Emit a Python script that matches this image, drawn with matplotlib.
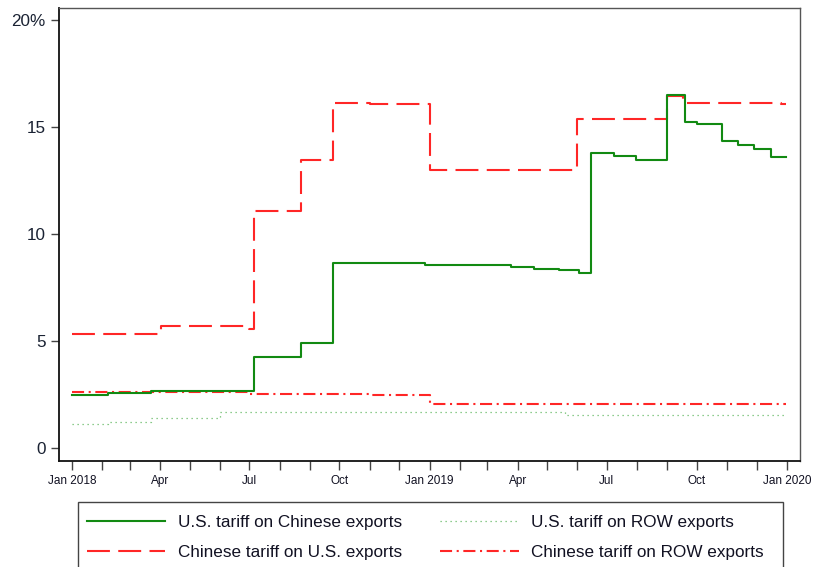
import matplotlib
matplotlib.use("Agg")
import matplotlib.pyplot as plt
import matplotlib.patches as mpatches
import numpy as np
import pandas as pd

plt.rcParams['font.family'] = ['Liberation Sans', 'DejaVu Sans']

# --- data (percent) ---
us_cn_dates = ['2018-01-01', '2018-02-07', '2018-03-23', '2018-07-06', '2018-08-23', '2018-09-24',
               '2018-12-27', '2019-03-25', '2019-04-18', '2019-05-13', '2019-06-03', '2019-06-15',
               '2019-07-08', '2019-07-31', '2019-09-01', '2019-09-19', '2019-10-01', '2019-10-27',
               '2019-11-12', '2019-11-28', '2019-12-16', '2019-12-31']
us_cn_vals = [2.49, 2.55, 2.65, 4.24, 4.89, 8.63, 8.55, 8.44, 8.36, 8.32, 8.16, 13.77,
              13.64, 13.46, 16.50, 15.22, 15.12, 14.35, 14.16, 13.97, 13.61, 13.61]

us_row_dates = ['2018-01-01', '2018-02-07', '2018-03-23', '2018-06-01', '2019-05-19', '2019-12-31']
us_row_vals = [1.10, 1.23, 1.40, 1.68, 1.54, 1.54]

cn_us_dates = ['2018-01-01', '2018-04-02', '2018-07-01', '2018-07-06', '2018-08-23', '2018-09-24',
               '2018-11-01', '2019-01-01', '2019-06-01', '2019-09-01', '2019-09-17', '2019-12-26',
               '2019-12-31']
cn_us_vals = [5.31, 5.71, 5.58, 11.07, 13.46, 16.14, 16.07, 12.99, 15.37, 16.46, 16.14, 16.09, 16.09]

cn_row_dates = ['2018-01-01', '2018-07-01', '2018-11-01', '2019-01-01', '2019-07-07', '2019-12-31']
cn_row_vals = [2.60, 2.51, 2.46, 2.07, 2.04, 2.04]

series_labels = ['U.S. tariff on Chinese exports', 'U.S. tariff on ROW exports',
                 'Chinese tariff on U.S. exports', 'Chinese tariff on ROW exports']

x_tick_dates = pd.date_range('2018-01-01', '2020-01-01', freq='MS')
x_tick_labels = ['Jan 2018', '', '', 'Apr', '', '', 'Jul', '', '', 'Oct', '', '',
                 'Jan 2019', '', '', 'Apr', '', '', 'Jul', '', '', 'Oct', '', '', 'Jan 2020']
y_ticks = [0, 5, 10, 15, 20]
y_tick_labels = ['0', '5', '10', '15', '20%']

# --- figure ---
W, H = 817, 567
fig = plt.figure(figsize=(W / 100, H / 100), dpi=100)
ax = fig.add_axes([59 / W, 1 - 460.5 / H, (800 - 59) / W, (460.5 - 8) / H])

red = '#ff2626'
green = '#128a12'

l1, = ax.step(pd.to_datetime(us_cn_dates), us_cn_vals, where='post', color=green, lw=1.5,
              label=series_labels[0], zorder=4)
l2, = ax.step(pd.to_datetime(us_row_dates), us_row_vals, where='post', color='#4fb04f', lw=0.9,
              linestyle=(0, (1, 3)), alpha=0.85, label=series_labels[1], zorder=2)
l3, = ax.step(pd.to_datetime(cn_us_dates), cn_us_vals, where='post', color=red, lw=1.5,
              linestyle=(0, (11, 4)), label=series_labels[2], zorder=3)
l4, = ax.step(pd.to_datetime(cn_row_dates), cn_row_vals, where='post', color=red, lw=1.5,
              linestyle=(0, (5.8, 2.2, 1, 2.2)), label=series_labels[3], zorder=3)

x0 = pd.Timestamp('2018-01-01') - pd.Timedelta(days=13.3)
x1 = pd.Timestamp('2020-01-01') + pd.Timedelta(days=13.3)
ax.set_xlim(x0, x1)
ax.set_ylim(-0.584, 20.56)

ax.set_xticks(x_tick_dates)
ax.set_xticklabels(x_tick_labels)
ax.set_yticks(y_ticks)
ax.set_yticklabels(y_tick_labels)

ax.tick_params(axis='x', length=6.3, width=1, color='#444444', labelsize=8.5,
               labelcolor='#111122', pad=4)
ax.tick_params(axis='y', length=5.8, width=1, color='#444444', labelsize=12.3,
               labelcolor='#1a2233', pad=4)

for s in ['left', 'bottom']:
    ax.spines[s].set_color('#111111')
    ax.spines[s].set_linewidth(1.3)
for s in ['top', 'right']:
    ax.spines[s].set_color('#555555')
    ax.spines[s].set_linewidth(1.0)

# legend: row-wise order (matplotlib fills columns first)
handles = [l1, l3, l2, l4]
labels = [series_labels[0], series_labels[2], series_labels[1], series_labels[3]]
leg = fig.legend(handles, labels, ncol=2, loc='upper left',
                 bbox_to_anchor=(74 / W, 1 - 502 / H),
                 fontsize=12.3, frameon=False,
                 handlelength=4.6, handletextpad=0.75, columnspacing=2.2,
                 labelspacing=0.88, borderpad=0.75, borderaxespad=0)
for t in leg.get_texts():
    t.set_color('#111122')

# legend box (extends below the figure edge as in the reference)
box = mpatches.Rectangle((78 / W, 1 - 600 / H), (783 - 78) / W, (600 - 502) / H,
                         transform=fig.transFigure, facecolor='none', edgecolor='#444444',
                         linewidth=1.0, zorder=0)
fig.patches.append(box)

fig.savefig('out.png', dpi=100, facecolor='white')
